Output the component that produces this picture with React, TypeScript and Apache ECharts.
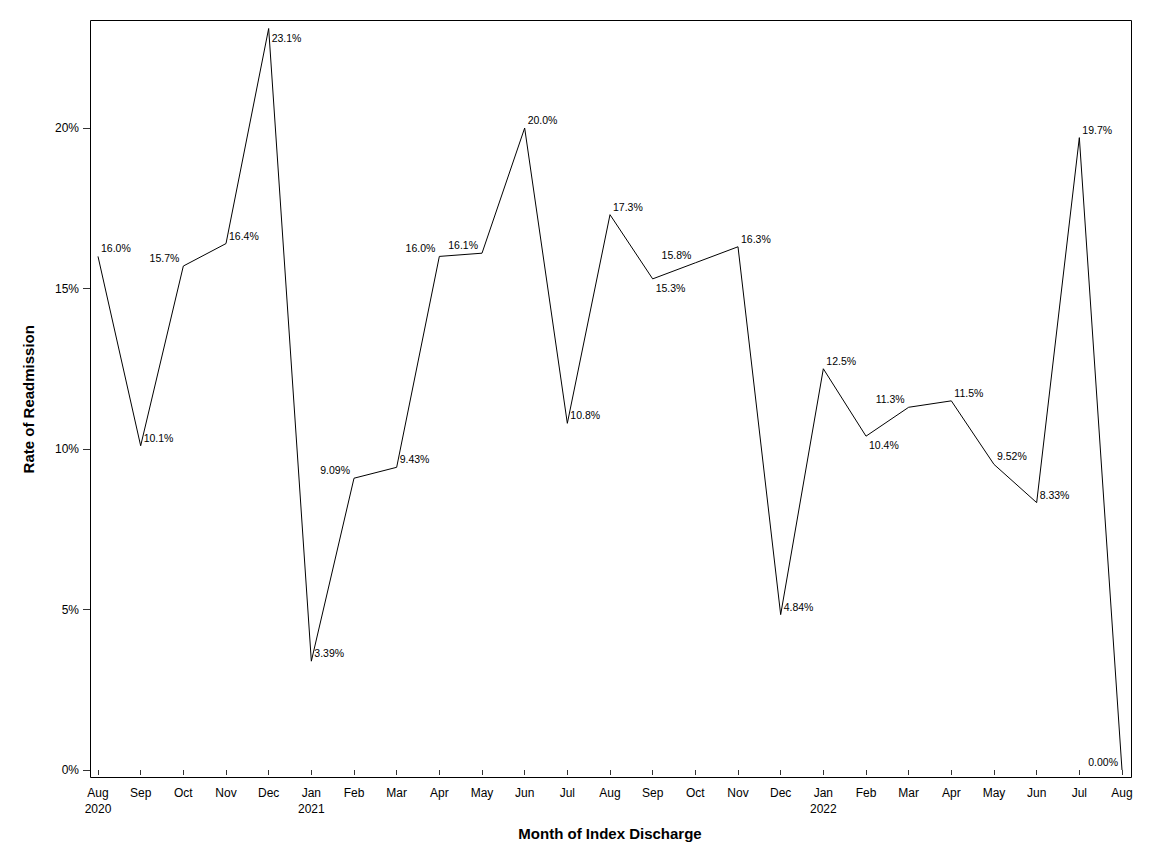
import React, { useEffect, useRef } from "react";
import * as echarts from "echarts";

const months = ["Aug", "Sep", "Oct", "Nov", "Dec", "Jan", "Feb", "Mar", "Apr", "May", "Jun", "Jul", "Aug", "Sep", "Oct", "Nov", "Dec", "Jan", "Feb", "Mar", "Apr", "May", "Jun", "Jul", "Aug"];
const years = ["2020", "", "", "", "", "2021", "", "", "", "", "", "", "", "", "", "", "", "2022", "", "", "", "", "", "", ""];
const readmissionRate = [16.0, 10.1, 15.7, 16.4, 23.1, 3.39, 9.09, 9.43, 16.0, 16.1, 20.0, 10.8, 17.3, 15.3, 15.8, 16.3, 4.84, 12.5, 10.4, 11.3, 11.5, 9.52, 8.33, 19.7, 0.0];
// label placement: R = right/above, B = right/below, L = left/above
const labelSide = ["R", "R", "L", "R", "B", "R", "L", "R", "L", "L", "R", "R", "R", "B", "L", "R", "R", "R", "B", "L", "R", "R", "R", "R", "L"];
const yTicks = [0, 5, 10, 15, 20];

const FONT = "'Liberation Sans', Arial, sans-serif";

export default function App() {
  const ref = useRef<HTMLDivElement>(null);
  useEffect(() => {
    if (!ref.current) return;
    const chart = echarts.init(ref.current, null, { renderer: "svg" });
    const categories = months.map((m, i) => (years[i] ? m + "\n" + years[i] : m));
    const fmt = (v: number) => (v >= 10 ? v.toFixed(1) : v.toFixed(2)) + "%";
    const data = readmissionRate.map((v, i) => {
      const side = labelSide[i];
      return {
        value: v,
        label: {
          show: true,
          position: side === "L" ? [-4, -8] : side === "B" ? [3, 9] : [3, -8],
          align: side === "L" ? "right" : "left",
          verticalAlign: "middle",
        },
      };
    });
    chart.setOption({
      animation: false,
      textStyle: { fontFamily: FONT },
      grid: { left: 98, right: 30, top: 28.5, bottom: 94, containLabel: false },
      xAxis: {
        type: "category",
        data: categories,
        boundaryGap: false,
        offset: 8,
        axisLine: { show: false },
        axisTick: { show: true, length: 5, alignWithLabel: true, interval: 0, lineStyle: { color: "#333" } },
        axisLabel: { interval: 0, color: "#000", fontSize: 12, lineHeight: 16, margin: 7, fontFamily: FONT },
        name: "Month of Index Discharge",
        nameLocation: "middle",
        nameGap: 48,
        nameTextStyle: { fontSize: 15, fontWeight: "bold", color: "#000", fontFamily: FONT },
        splitLine: { show: false },
      },
      yAxis: {
        type: "value",
        min: 0,
        max: 23.1,
        interval: 5,
        offset: 8,
        axisLine: { show: false },
        axisTick: { show: true, length: 7, customValues: yTicks, lineStyle: { color: "#333" } },
        axisLabel: { customValues: yTicks, formatter: (v: number) => v + "%", color: "#000", fontSize: 12, margin: 11, fontFamily: FONT },
        splitLine: { show: false },
        name: "Rate of Readmission",
        nameLocation: "middle",
        nameGap: 54,
        nameTextStyle: { fontSize: 15, fontWeight: "bold", color: "#000", fontFamily: FONT },
      },
      graphic: [
        {
          type: "rect",
          silent: true,
          z: 100,
          shape: { x: 90.5, y: 20.5, width: 1041, height: 757 },
          style: { fill: "none", stroke: "#000", lineWidth: 1 },
        },
      ],
      series: [
        {
          type: "line",
          data,
          symbol: "circle",
          symbolSize: 0,
          showSymbol: true,
          itemStyle: { color: "#000" },
          lineStyle: { color: "#000", width: 1 },
          label: {
            show: true,
            formatter: (p: any) => fmt(p.value),
            fontSize: 10.5,
            color: "#000",
            fontFamily: FONT,
          },
          labelLayout: { hideOverlap: false },
        },
      ],
    });
    return () => chart.dispose();
  }, []);
  return <div ref={ref} style={{ position: "absolute", left: 0, top: 0, width: 1152, height: 864, background: "#fff" }} />;
}
